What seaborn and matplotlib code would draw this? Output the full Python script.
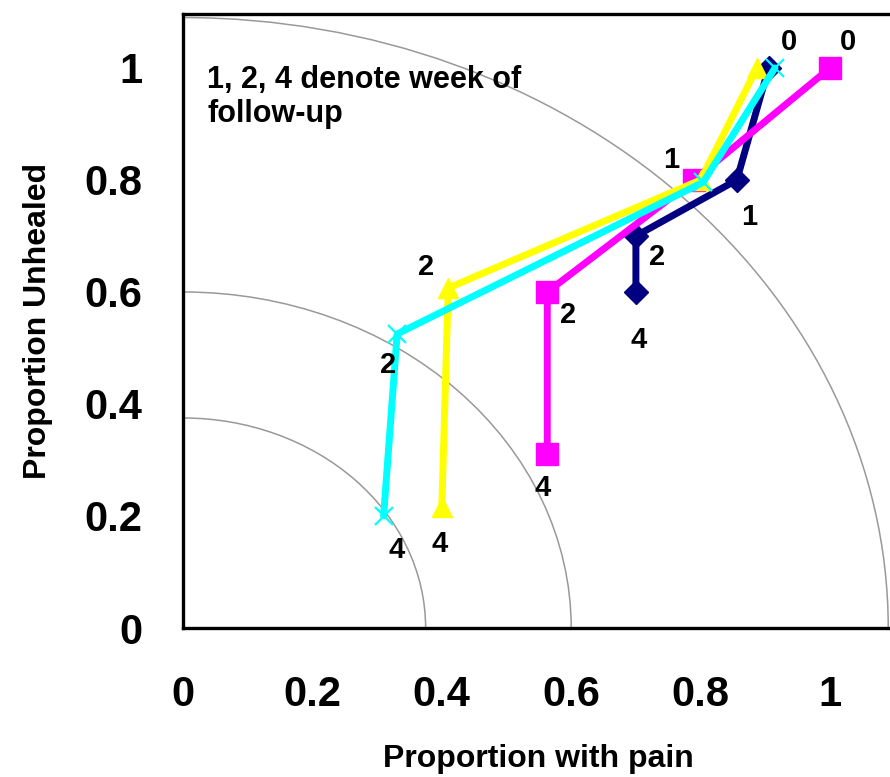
import numpy as np
import pandas as pd
import seaborn as sns
import matplotlib.pyplot as plt
from matplotlib.patches import Arc

# data (proportion with pain, proportion unhealed) per week
weeks = [0, 1, 2, 4]
navy_pain = [0.905, 0.856, 0.70, 0.70]
navy_unhealed = [1.00, 0.80, 0.70, 0.60]
magenta_pain = [1.00, 0.79, 0.563, 0.563]
magenta_unhealed = [1.00, 0.80, 0.60, 0.31]
yellow_pain = [0.887, 0.80, 0.41, 0.40]
yellow_unhealed = [1.00, 0.80, 0.607, 0.216]
cyan_pain = [0.915, 0.804, 0.331, 0.31]
cyan_unhealed = [1.00, 0.796, 0.525, 0.20]
arc_radii = [0.375, 0.60, 1.09]

note = "1, 2, 4 denote week of\nfollow-up"

sns.set_style("white")
plt.rcParams['font.family'] = ['Liberation Sans', 'DejaVu Sans']
plt.rcParams['font.weight'] = 'bold'
plt.rcParams['text.color'] = 'black'
plt.rcParams['axes.labelcolor'] = 'black'
plt.rcParams['xtick.color'] = 'black'
plt.rcParams['ytick.color'] = 'black'

fig = plt.figure(figsize=(8.9, 7.77), dpi=100)
ax = fig.add_axes([183 / 890, 149 / 777, 711.7 / 890, 613.8 / 777])

# quarter circles
for r in arc_radii:
    ax.add_patch(Arc((0, 0), 2 * r, 2 * r, theta1=0, theta2=90, color='#999999', lw=1.1, zorder=1))

series = [
    ('navy', navy_pain, navy_unhealed, '#000080', 'D', 12, 1),
    ('magenta', magenta_pain, magenta_unhealed, '#FF00FF', 's', 15.5, 1),
    ('yellow', yellow_pain, yellow_unhealed, '#FFFF00', '^', 15, 1),
    ('cyan', cyan_pain, cyan_unhealed, '#00FFFF', 'x', 13, 1.6),
]

# label offsets in pixels (dx, dy) for each point of each series
offsets = {
    'navy': [(20, 26), (12, -37), (21, -21), (3, -48)],
    'magenta': [(18, 26), (-23, 20), (21, -23), (-5, -34)],
    'yellow': [None, None, (-22, 21), (-2, -37)],
    'cyan': [None, None, (-9, -31), (13, -34)],
}

for i, (name, xs, ys, col, mk, ms, mew) in enumerate(series):
    df = pd.DataFrame({'pain': xs, 'unhealed': ys, 'week': weeks})
    sns.lineplot(data=df, x='pain', y='unhealed', sort=False, estimator=None, ax=ax,
                 color=col, lw=5, marker=mk, markersize=ms, markeredgecolor=col,
                 markerfacecolor=col, markeredgewidth=mew, zorder=3 + i)
    for xv, yv, w, off in zip(xs, ys, weeks, offsets[name]):
        if off is None:
            continue
        ax.annotate(str(w), (xv, yv), xytext=off, textcoords='offset pixels',
                    ha='center', va='center', fontsize=21, fontweight='bold',
                    color='black', zorder=10)

ax.text(0.034, 0.918, note, transform=ax.transAxes, ha='left', va='top',
        fontsize=22, fontweight='bold', linespacing=1.2, color='black')

ax.set_xlim(0, 1.1)
ax.set_ylim(0, 1.096)
ax.set_xticks([0, 0.2, 0.4, 0.6, 0.8, 1])
ax.set_xticklabels(['0', '0.2', '0.4', '0.6', '0.8', '1'])
ax.set_yticks([0, 0.2, 0.4, 0.6, 0.8, 1])
ax.set_yticklabels(['0', '0.2', '0.4', '0.6', '0.8', '1'])

for side in ['left', 'top', 'bottom', 'right']:
    ax.spines[side].set_color('black')
    ax.spines[side].set_linewidth(2.4)

ax.tick_params(axis='x', direction='out', length=9, width=0.8, color='#444444',
               pad=25, labelsize=30, labelcolor='black')
ax.tick_params(axis='y', direction='out', length=10, width=1.8, color='black',
               pad=19, labelsize=30, labelcolor='black')
for lab in ax.get_xticklabels() + ax.get_yticklabels():
    lab.set_fontweight('bold')

ax.set_xlabel('Proportion with pain', fontsize=23, fontweight='bold', labelpad=21, color='black')
ax.set_ylabel('Proportion Unhealed', fontsize=23, fontweight='bold', labelpad=23, color='black')

fig.savefig('out.png', dpi=100)
